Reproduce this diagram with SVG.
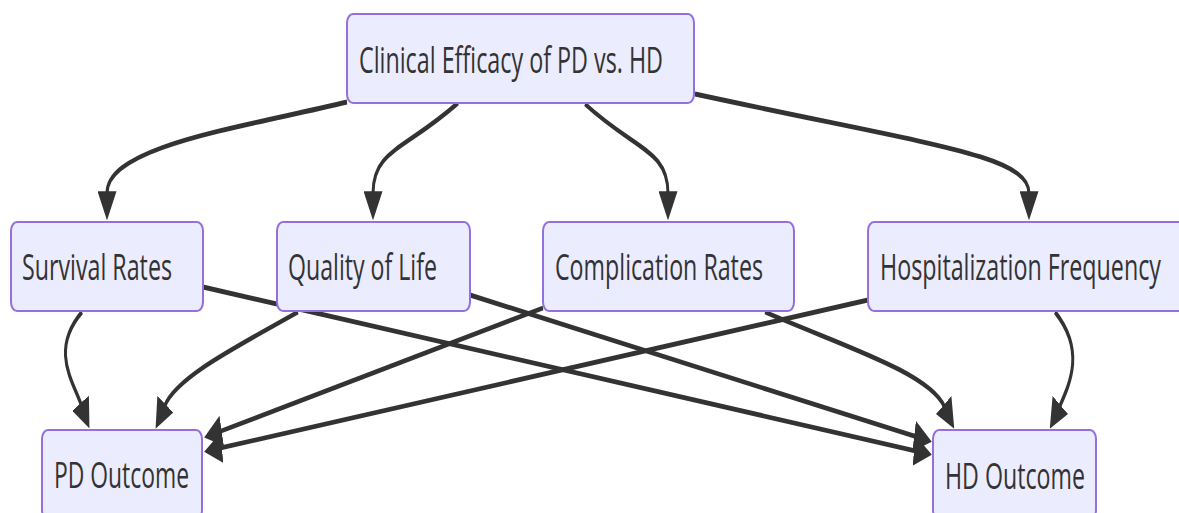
<svg xmlns="http://www.w3.org/2000/svg" width="1179" height="513" viewBox="0 0 1179 513">
<defs>
<marker id="arrow" viewBox="0 0 18 19" markerWidth="18" markerHeight="19" refX="1.2" refY="9.5" orient="auto" markerUnits="userSpaceOnUse">
<path d="M0,0 L18,9.5 L0,19 z" fill="#333333"/>
</marker>
<style>
.node rect{fill:#ECECFF;stroke:#9370DB;stroke-width:2;}
.node text{font-family:"Open Sans","Noto Sans","Liberation Sans",sans-serif;font-size:36.5px;fill:#333333;}
.edge{fill:none;stroke:#333333;stroke-width:3;marker-end:url(#arrow);}
</style>
</defs>
<rect width="1179" height="513" fill="#ffffff"/>
<g id="connectors" transform="scale(1,1.62)">
<path class="edge" d="M347,62.96 C240,79.01 107,90.12 107,119.25"/>
<path class="edge" d="M458,63.58 C405,92.59 373,92.59 373,119.25"/>
<path class="edge" d="M585,64.2 C635,92.59 668,92.59 668,119.25"/>
<path class="edge" d="M695,58.02 C930,89.51 1029,95.68 1029,119.25"/>
<path class="edge" d="M82,192.59 C50,216.05 72.75,234.94 81.2,249.9"/>
<path class="edge" d="M298,192.59 C240,212.96 176.4,232.41 164.7,250.5"/>
<path class="edge" d="M543,190.12 L220.5,266.2"/>
<path class="edge" d="M868,185.19 L220.8,276.5"/>
<path class="edge" d="M203,177.16 L915.2,278.3"/>
<path class="edge" d="M470,182.1 L915.3,269.4"/>
<path class="edge" d="M765,192.59 C840,212.96 929.1,229.88 944.4,251"/>
<path class="edge" d="M1055,192.59 C1085,216.05 1070.4,236.05 1059.6,251"/>
</g>
<g id="clinical" class="node">
<rect x="347" y="14" width="347" height="89" rx="6" ry="9"/>
<text x="359" y="73" textLength="304" lengthAdjust="spacingAndGlyphs">Clinical Efficacy of PD vs. HD</text>
</g>
<g id="survival" class="node">
<rect x="11" y="222" width="192" height="89" rx="6" ry="9"/>
<text x="22" y="280" textLength="150" lengthAdjust="spacingAndGlyphs">Survival Rates</text>
</g>
<g id="quality" class="node">
<rect x="277" y="222" width="193" height="89" rx="6" ry="9"/>
<text x="288" y="280" textLength="149" lengthAdjust="spacingAndGlyphs">Quality of Life</text>
</g>
<g id="complication" class="node">
<rect x="543" y="222" width="251" height="89" rx="6" ry="9"/>
<text x="555" y="280" textLength="208" lengthAdjust="spacingAndGlyphs">Complication Rates</text>
</g>
<g id="hospitalization" class="node">
<rect x="868" y="222" width="322" height="89" rx="6" ry="9"/>
<text x="880" y="280" textLength="281" lengthAdjust="spacingAndGlyphs">Hospitalization Frequency</text>
</g>
<g id="pd" class="node">
<rect x="42" y="430" width="160" height="89" rx="6" ry="9"/>
<text x="54" y="488" textLength="135" lengthAdjust="spacingAndGlyphs">PD Outcome</text>
</g>
<g id="hd" class="node">
<rect x="933" y="430" width="163" height="89" rx="6" ry="9"/>
<text x="945" y="489" textLength="140" lengthAdjust="spacingAndGlyphs">HD Outcome</text>
</g>
</svg>
